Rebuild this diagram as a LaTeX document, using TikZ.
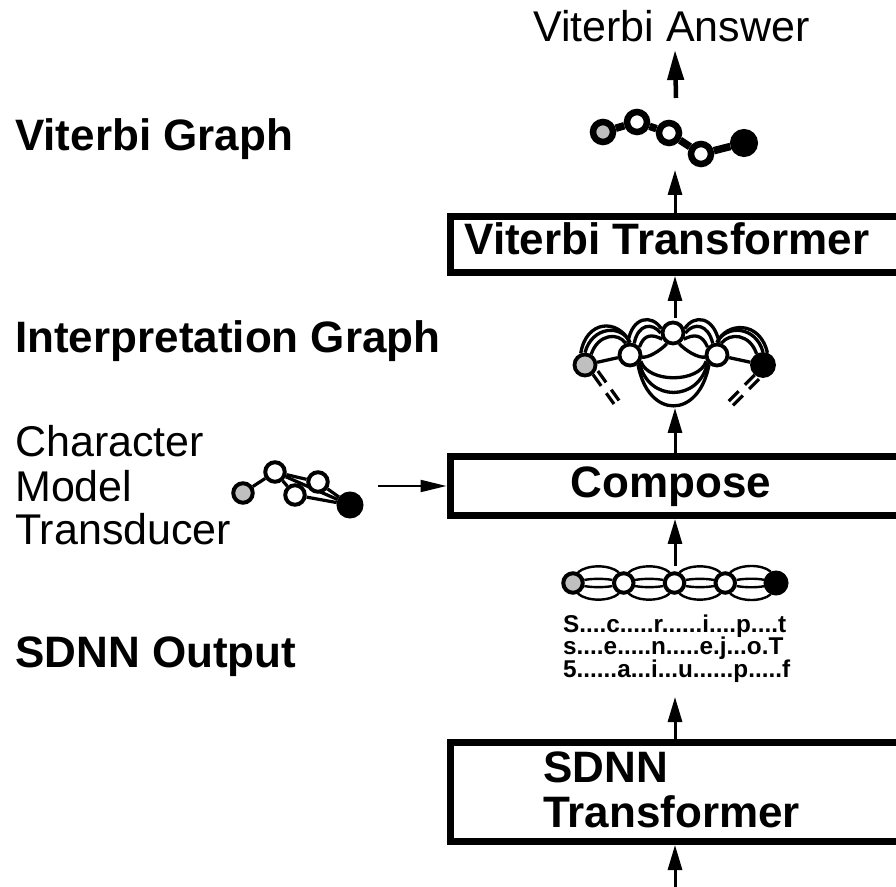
\documentclass[tikz,border=0pt]{standalone}
\usepackage{fontspec}
\setmainfont{Liberation Sans}
\usetikzlibrary{arrows.meta,backgrounds}
\begin{document}
\begin{tikzpicture}[x=1pt,y=1pt,
  big/.style={font=\fontsize{43}{48}\selectfont, inner sep=0pt, anchor=base west},
  bigb/.style={font=\fontsize{44}{48}\selectfont\bfseries, inner sep=0pt, anchor=base west},
  smalltext/.style={font=\fontsize{24.3}{26}\selectfont\bfseries, inner sep=0pt, anchor=base west},
  box/.style={draw, line width=7pt, rectangle, minimum width=450pt, inner sep=0pt},
  flow/.style={line width=3pt, -{Triangle[length=25pt,width=14pt]}},
  vn/.style={circle, draw, line width=6.5pt, fill=white, minimum size=20pt, inner sep=0pt},
  inode/.style={circle, draw, line width=3.8pt, fill=white, minimum size=21pt, inner sep=0pt},
  cnode/.style={circle, draw, line width=4pt, fill=white, minimum size=19.5pt, inner sep=0pt},
  snode/.style={circle, draw, line width=4pt, fill=white, minimum size=19.5pt, inner sep=0pt},
  startfill/.style={fill=black!25},
  endfill/.style={fill=black},
  stub/.style={line width=3.2pt, dash pattern=on 14pt off 9pt},
]
\useasboundingbox (0,0) rectangle (896,886);
\clip (0,0) rectangle (896,886);

% ---------- left labels ----------
\node[bigb] (lvg) at (15,735) {Viterbi Graph};
\node[bigb] (lig) at (15,533) {Interpretation Graph};
\node[big] (lc1) at (15,429) {Character};
\node[big] (lc2) at (15,384) {Model};
\node[big] (lc3) at (15,341) {Transducer};
\node[bigb] (lso) at (15,218) {SDNN Output};

% ---------- top answer ----------
\node[big] (va) at (533,844) {Viterbi Answer};

% ---------- boxes ----------
\node[box, minimum height=56pt] (vt) at (675,641.5) {};
\node[bigb, anchor=base] (vtt) at (667,631) {Viterbi Transformer};
\node[box, minimum height=59pt] (cp) at (675,400) {};
\node[bigb, anchor=base] (cpt) at (671,388) {Compose};
\node[box, minimum height=99pt] (sd) at (675,94) {};
\node[bigb] (sdt1) at (543,104) {SDNN};
\node[bigb] (sdt2) at (543,59) {Transformer};

% ---------- SDNN output text ----------
\node[smalltext] (so1) at (563,253) {S....c.....r......i....p....t};
\node[smalltext] (so2) at (563,231) {s....e.....n.....e.j...o.T};
\node[smalltext] (so3) at (563,208) {5......a...i...u......p.....f};

% ---------- Viterbi graph ----------
\node[vn, startfill] (vg1) at (603,754) {};
\node[vn] (vg2) at (637,764) {};
\node[vn] (vg3) at (669,753) {};
\node[vn] (vg4) at (701,732) {};
\node[vn, endfill, minimum size=21.5pt] (vg5) at (744,743) {};

% ---------- Interpretation graph ----------
\node[inode, startfill] (ig1) at (585,521) {};
\node[inode] (ig2) at (630,531) {};
\node[inode] (ig3) at (673,553) {};
\node[inode] (ig4) at (717,531) {};
\node[inode, endfill, minimum size=22pt] (ig5) at (763,521) {};

% ---------- Character model transducer ----------
\node[cnode, startfill] (cg1) at (243,393) {};
\node[cnode] (cg2) at (275,414) {};
\node[cnode] (cg3) at (295,391) {};
\node[cnode] (cg4) at (318,404) {};
\node[cnode, endfill, minimum size=23pt] (cg5) at (350,381) {};

% ---------- SDNN output graph ----------
\node[snode, startfill] (sg1) at (573,303) {};
\node[snode] (sg2) at (623.75,303) {};
\node[snode] (sg3) at (674.5,303) {};
\node[snode] (sg4) at (725.25,303) {};
\node[snode, endfill, minimum size=21pt] (sg5) at (776,303) {};

\begin{pgfonlayer}{background}
  % Viterbi graph edges
  \draw[line width=7.5pt] (vg1) -- (vg2) -- (vg3) -- (vg4) -- (vg5);
  % Character model edges
  \begin{scope}[line width=3.2pt]
    \draw (cg1) -- (cg2);
    \draw (cg2) -- (cg4);
    \draw (cg2) -- (cg3);
    \draw (cg3) -- (cg5);
    \draw (cg4) -- (cg5);
    \draw (cg2) -- (cg5);
  \end{scope}
  % SDNN graph edges
  \foreach \i/\j in {1/2,2/3,3/4,4/5}{
    \draw[line width=2.4pt] (sg\i.65) .. controls +(9,8) and +(-9,8) .. (sg\j.115);
    \draw[line width=2.4pt] (sg\i.-65) .. controls +(9,-8) and +(-9,-8) .. (sg\j.-115);
    \draw[line width=2.4pt] (sg\i.15) .. controls +(8,1.5) and +(-8,1.5) .. (sg\j.165);
    \draw[line width=2.4pt] (sg\i.-15) .. controls +(8,-1.5) and +(-8,-1.5) .. (sg\j.-165);
  }
  % Interpretation graph edges
  \begin{scope}[line width=3.3pt]
    \draw (ig1.110) .. controls (586,566) and (618,568) .. (ig2.north);
    \draw (ig1.north) .. controls (592,560) and (622,562) .. (ig2.north);
    \draw (ig1.60) .. controls (598,552) and (618,554) .. (ig2.110);
    \draw (ig1) -- (ig2);
    \draw (ig2.100) .. controls (632,570) and (652,572) .. (ig3.160);
    \draw (ig2.70) .. controls (638,562) and (652,564) .. (ig3.180);
    \draw (ig2.40) .. controls (644,552) and (652,552) .. (ig3.210);
    \draw (ig2.-10) .. controls (648,528) and (660,535) .. (ig3.240);
    \draw (ig3.20) .. controls (694,572) and (714,570) .. (ig4.80);
    \draw (ig3.0) .. controls (694,564) and (708,562) .. (ig4.110);
    \draw (ig3.-30) .. controls (694,552) and (702,552) .. (ig4.140);
    \draw (ig3.-60) .. controls (686,535) and (698,528) .. (ig4.190);
    \draw (ig4.north) .. controls (726,564) and (760,566) .. (ig5.70);
    \draw (ig4.north) .. controls (726,562) and (756,560) .. (ig5.north);
    \draw (ig4.70) .. controls (730,554) and (750,552) .. (ig5.120);
    \draw (ig4) -- (ig5);
    \draw (ig2.-30) .. controls (648,502.7) and (699,502.7) .. (ig4.210);
    \draw (ig2.-40) .. controls (648,483.7) and (699,483.7) .. (ig4.220);
    \draw (ig2.-50) .. controls (648,466.3) and (699,466.3) .. (ig4.230);
  \end{scope}
\end{pgfonlayer}

% dashed stubs
\coordinate (dl1) at (614,482);
\coordinate (dl2) at (619,485.5);
\coordinate (dr1) at (724,480);
\coordinate (dr2) at (728.3,475.8);
\draw[stub] (ig1.-50) -- (dl1);
\draw[stub] ([shift={(4.9,3.5)}]ig1.-50) -- (dl2);
\draw[stub] (ig5.-130) -- (dr1);
\draw[stub] ([shift={(4.3,-4.2)}]ig5.-130) -- (dr2);

% ---------- arrows ----------
\coordinate (in0) at (675,-5);
\coordinate (t2) at (675,189);
\coordinate (s3) at (675,320);
\coordinate (t4) at (675,478);
\coordinate (s5) at (675,568);
\coordinate (t6) at (675,716);
\coordinate (s7) at (676,788);
\coordinate (t7) at (675,836);
\coordinate (h0) at (378,400);
\draw[flow] (in0) -- (sd.south);
\draw[flow] (sd.north) -- (t2);
\draw[flow] (s3) -- (cp.south);
\draw[flow] (cp.north) -- (t4);
\draw[flow] (s5) -- (vt.south);
\draw[flow] (vt.north) -- (t6);
\draw[line width=4.5pt, -{Triangle[length=30pt,width=16pt]}] (s7) -- (t7);
\draw[line width=2pt, -{Triangle[length=26pt,width=12pt]}] (h0) -- (cp.west);
\end{tikzpicture}
\end{document}
